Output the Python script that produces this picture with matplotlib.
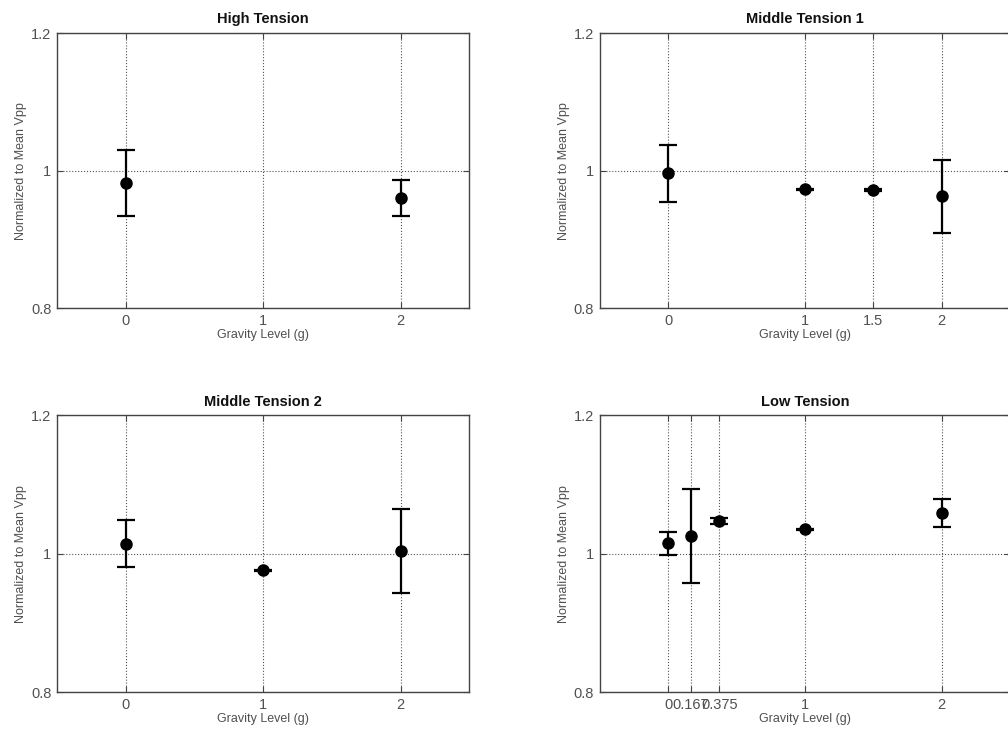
import matplotlib
matplotlib.use("Agg")
import matplotlib.pyplot as plt

plt.rcParams['font.family'] = ['Liberation Sans', 'DejaVu Sans']

titles = ['High Tension', 'Middle Tension 1', 'Middle Tension 2', 'Low Tension']

ht_x = [0, 2]
ht_y = [0.982, 0.960]
ht_err = [0.048, 0.026]

mt1_x = [0, 1, 1.5, 2]
mt1_y = [0.996, 0.973, 0.972, 0.963]
mt1_err = [0.042, 0.001, 0.001, 0.053]

mt2_x = [0, 1, 2]
mt2_y = [1.014, 0.976, 1.004]
mt2_err = [0.034, 0.001, 0.061]

lt_x = [0, 0.167, 0.375, 1, 2]
lt_y = [1.015, 1.025, 1.047, 1.035, 1.059]
lt_err = [0.017, 0.068, 0.004, 0.001, 0.020]

xticks_list = [[0, 1, 2], [0, 1, 1.5, 2], [0, 1, 2], [0, 0.167, 0.375, 1, 2]]
xticklabels_list = [['0', '1', '2'], ['0', '1', '1.5', '2'], ['0', '1', '2'],
                    ['0', '0.167', '0.375', '1', '2']]
yticks = [0.8, 1.0, 1.2]
yticklabels = ['0.8', '1', '1.2']

data = [(ht_x, ht_y, ht_err), (mt1_x, mt1_y, mt1_err),
        (mt2_x, mt2_y, mt2_err), (lt_x, lt_y, lt_err)]

# axes boxes in figure fractions [left, bottom, width, height]
positions = [[0.0565, 0.580, 0.409, 0.375],
             [0.595, 0.580, 0.407, 0.375],
             [0.0565, 0.0572, 0.409, 0.377],
             [0.595, 0.0572, 0.407, 0.377]]

fig = plt.figure(figsize=(10.08, 7.34), dpi=100)
txt = '#505050'

for i in range(4):
    ax = fig.add_axes(positions[i])
    x, y, e = data[i]
    ax.errorbar(x, y, yerr=e, fmt='o', color='black', markersize=8,
                elinewidth=1.6, capsize=6.5, capthick=1.6)
    ax.set_xlim(-0.5, 2.5)
    ax.set_ylim(0.8, 1.2)
    ax.set_xticks(xticks_list[i])
    ax.set_xticklabels(xticklabels_list[i])
    ax.set_yticks(yticks)
    ax.set_yticklabels(yticklabels)
    ax.grid(True, linestyle=':', color='#555555', linewidth=0.8)
    ax.tick_params(direction='in', top=True, right=True, labelsize=10.5,
                   labelcolor=txt, color='#444444', length=4, pad=4)
    for s in ax.spines.values():
        s.set_color('#444444')
        s.set_linewidth(1.0)
    ax.set_title(titles[i], fontsize=10.5, fontweight='bold', color='#111111', pad=7)
    ax.set_xlabel('Gravity Level (g)', fontsize=9, color=txt, labelpad=1)
    ax.set_ylabel('Normalized to Mean Vpp', fontsize=9, color=txt, labelpad=3)

fig.savefig('out.png', dpi=100)
